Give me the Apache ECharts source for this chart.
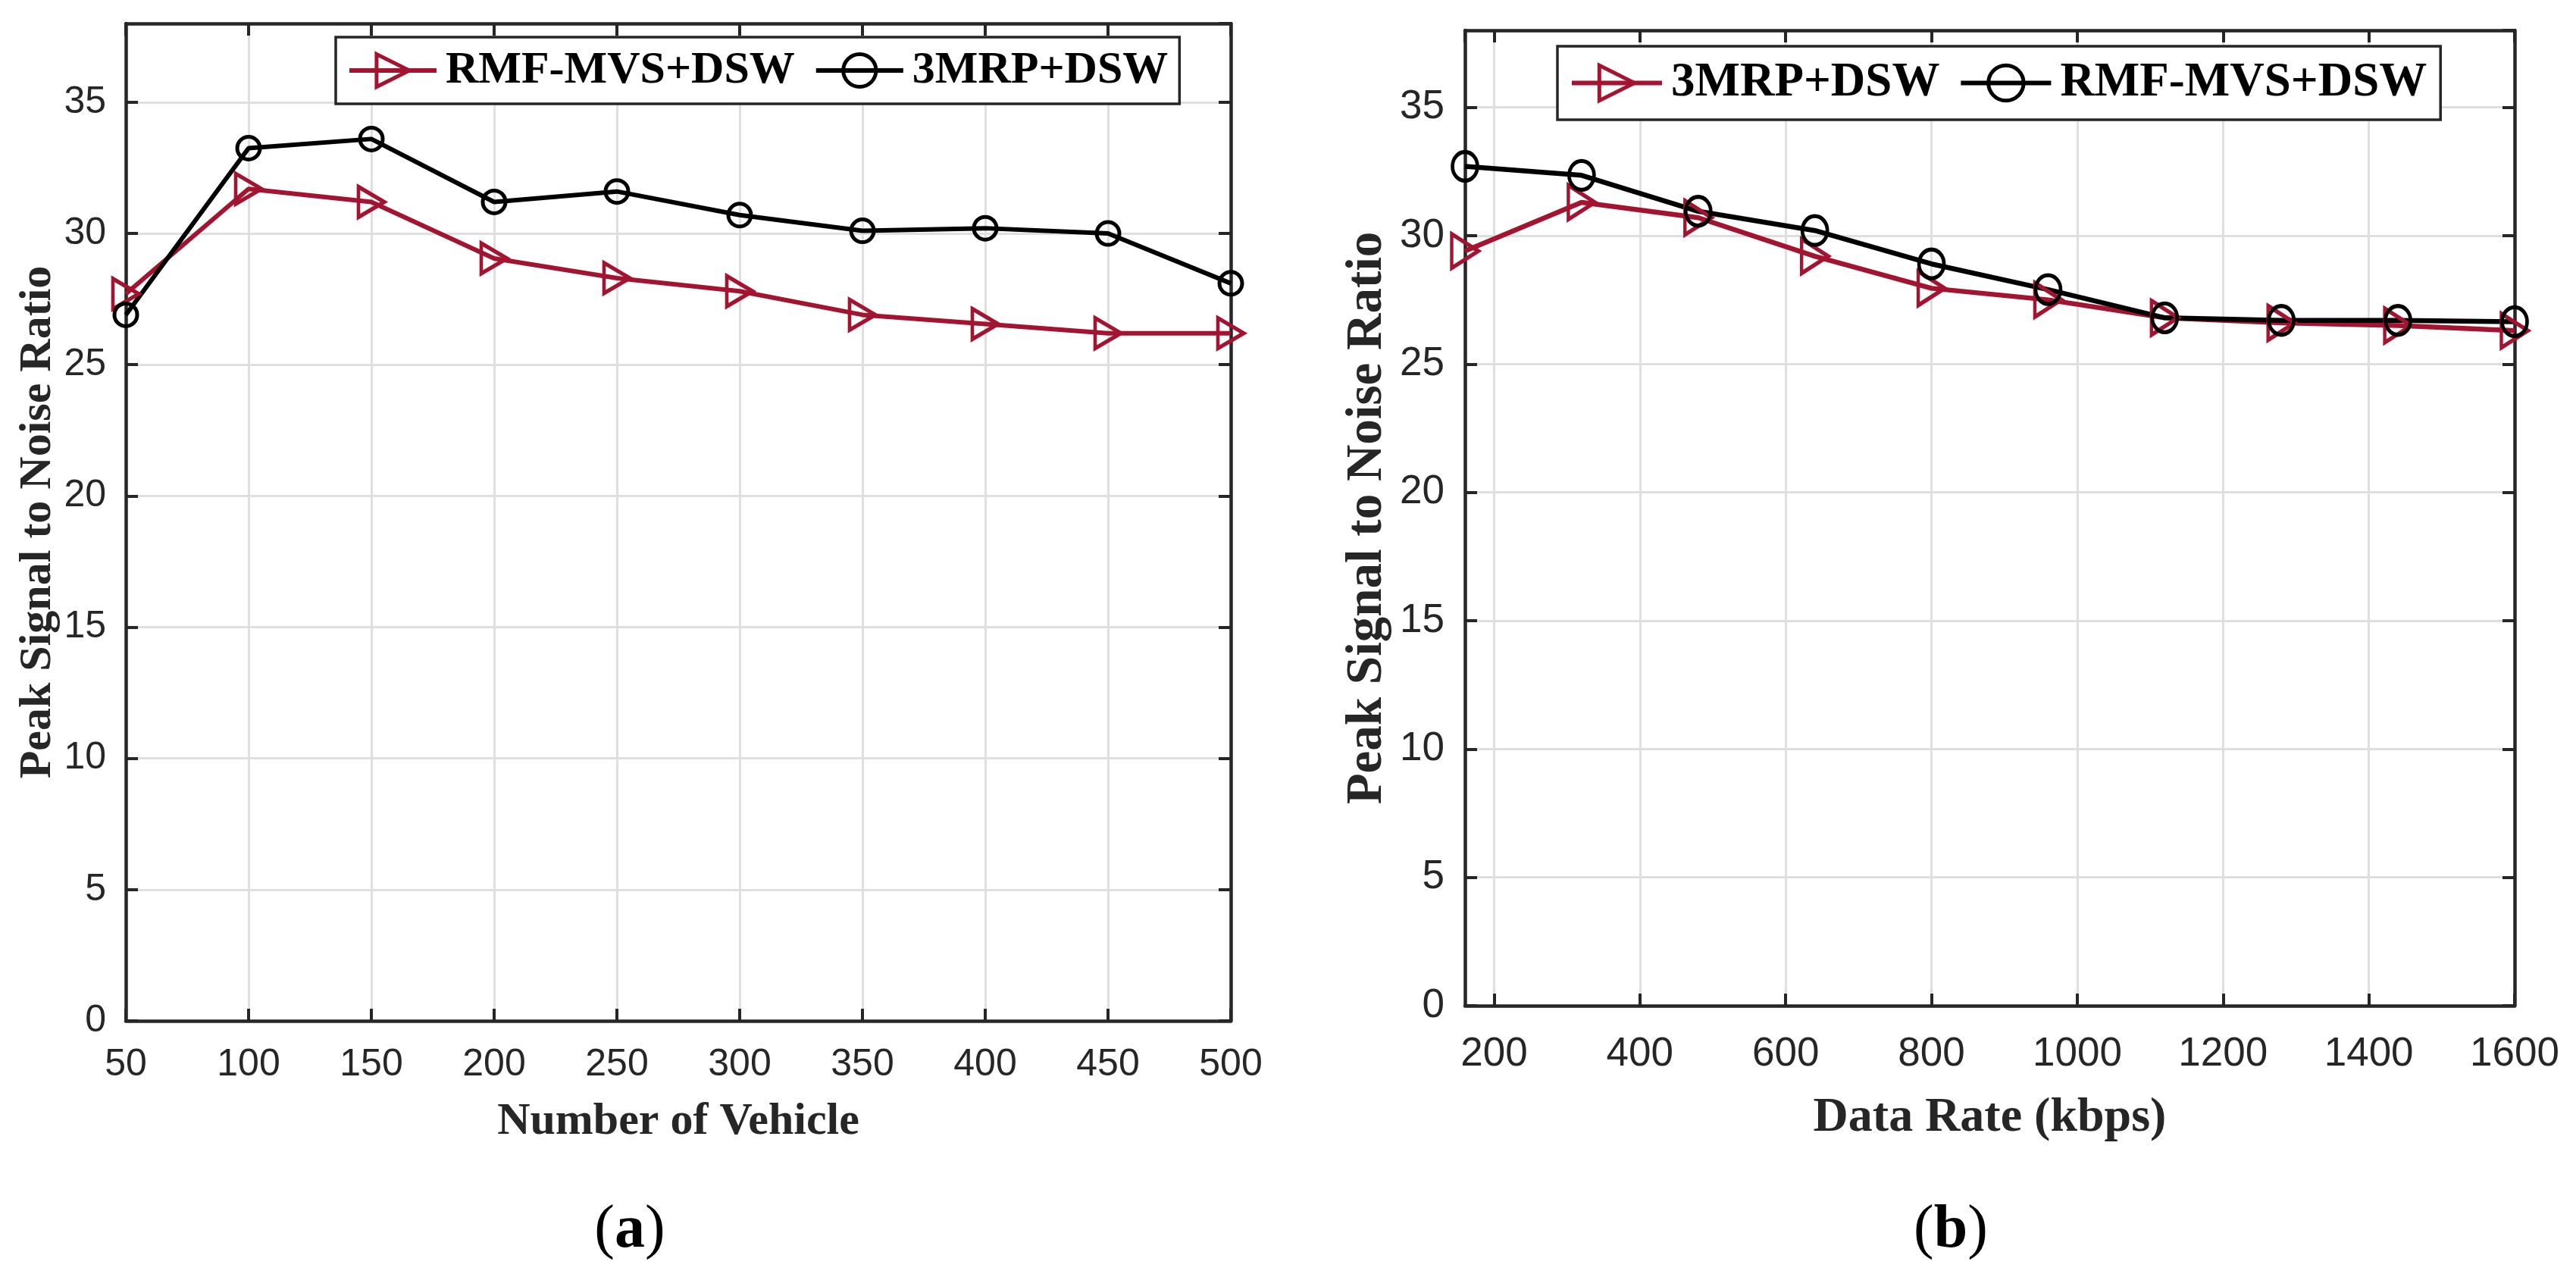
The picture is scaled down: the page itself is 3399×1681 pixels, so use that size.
<!DOCTYPE html>
<html>
<head>
<meta charset="utf-8">
<script src="https://cdn.jsdelivr.net/npm/echarts@6/dist/echarts.min.js"></script>
<style>
html,body{margin:0;padding:0;background:#ffffff;}
#c{width:3399px;height:1681px;}
</style>
</head>
<body>
<div id="c"></div>
<script>
// ---------- data ----------
const vehicles = [50, 100, 150, 200, 250, 300, 350, 400, 450, 500];
const psnrA_RMF = [27.7, 31.7, 31.2, 29.05, 28.3, 27.8, 26.9, 26.55, 26.2, 26.2];
const psnrA_3MRP = [26.9, 33.25, 33.6, 31.2, 31.6, 30.7, 30.1, 30.2, 30.0, 28.1];

const dataRates = [160, 320, 480, 640, 800, 960, 1120, 1280, 1440, 1600];
const psnrB_3MRP = [29.4, 31.3, 30.7, 29.2, 27.95, 27.5, 26.8, 26.6, 26.5, 26.3];
const psnrB_RMF = [32.7, 32.35, 30.95, 30.2, 28.9, 27.9, 26.8, 26.7, 26.7, 26.65];

const xTicksB = [200, 400, 600, 800, 1000, 1200, 1400, 1600];
const legendA = ['RMF-MVS+DSW', '3MRP+DSW'];
const legendB = ['3MRP+DSW', 'RMF-MVS+DSW'];
const panelTitles = ['a', 'b'];
const xNames = ['Number of Vehicle', 'Data Rate (kbps)'];
const yName = 'Peak Signal to Noise Ratio';

// ---------- styling ----------
const RED = '#A2142F';
const BLACK = '#000000';
const AX = '#262626';
const GRIDC = '#dfdfdf';
const ZW = '\u200B'; // keeps the panel-b legend names distinct from panel a
const TRI = 'path://M0,0L10,5L0,10Z';

function pairs(xs, ys) { return xs.map((x, i) => [x, ys[i]]); }

function xAxisPair(grid, min, max, extra, labelFont, margin, name, nameFont, nameGap) {
  const base = {
    gridIndex: grid, type: 'value', min: min, max: max,
    axisLine: { show: true, onZero: false, lineStyle: { color: AX, width: 4.5 } },
    axisTick: { show: true, inside: true, length: 16, lineStyle: { color: AX, width: 4 } }
  };
  return [
    Object.assign({}, base, extra, {
      position: 'bottom',
      axisLabel: Object.assign({ show: true, fontFamily: 'Liberation Sans', fontSize: labelFont, color: AX, margin: margin },
        extra.axisLabel || {}),
      splitLine: { show: true, lineStyle: { color: GRIDC, width: 3 } },
      name: name, nameLocation: 'middle', nameGap: nameGap,
      nameTextStyle: { fontFamily: 'Liberation Serif', fontWeight: 'bold', fontSize: nameFont, color: AX }
    }),
    Object.assign({}, base, extra, {
      position: 'top',
      axisLabel: { show: false },
      splitLine: { show: false }
    })
  ];
}

function yAxisPair(grid, labelFont, margin, nameFont, nameGap) {
  const base = {
    gridIndex: grid, type: 'value', min: 0, max: 38, interval: 5,
    axisLine: { show: true, onZero: false, lineStyle: { color: AX, width: 4.5 } },
    axisTick: { show: true, inside: true, length: 16, lineStyle: { color: AX, width: 4 } }
  };
  return [
    Object.assign({}, base, {
      position: 'left',
      axisLabel: { show: true, fontFamily: 'Liberation Sans', fontSize: labelFont, color: AX, margin: margin, showMaxLabel: false },
      splitLine: { show: true, lineStyle: { color: GRIDC, width: 3 } },
      name: yName, nameLocation: 'middle', nameGap: nameGap, nameRotate: 90,
      nameTextStyle: { fontFamily: 'Liberation Serif', fontWeight: 'bold', fontSize: nameFont, color: AX }
    }),
    Object.assign({}, base, {
      position: 'right',
      axisLabel: { show: false },
      splitLine: { show: false }
    })
  ];
}

const xAxes = []
  .concat(xAxisPair(0, 50, 500, { interval: 50 }, 50, 33, xNames[0], 60, 103))
  .concat(xAxisPair(1, 160, 1600, {
    splitNumber: 7,
    axisLabel: {
      showMinLabel: false,
      formatter: function (v) { return xTicksB.indexOf(v) >= 0 ? String(v) : ''; }
    }
  }, 53, 38, xNames[1], 64, 116));

const yAxes = []
  .concat(yAxisPair(0, 50, 26, 60, 72))
  .concat(yAxisPair(1, 53, 27, 67, 95));

function lineSeries(name, xIdx, yIdx, data, color, symbol, size, lw) {
  return {
    name: name, type: 'line', xAxisIndex: xIdx, yAxisIndex: yIdx,
    data: data, clip: false,
    symbol: symbol, symbolSize: size, showAllSymbol: true,
    lineStyle: { color: color, width: lw },
    itemStyle: { color: 'rgba(255,255,255,0)', borderColor: color, borderWidth: 5 },
    emphasis: { disabled: true },
    animation: false
  };
}

const series = [
  lineSeries(legendA[0], 0, 0, pairs(vehicles, psnrA_RMF), RED, TRI, [34, 40], 6),
  lineSeries(legendA[1], 0, 0, pairs(vehicles, psnrA_3MRP), BLACK, 'circle', 30, 6),
  lineSeries(legendB[0] + ZW, 2, 2, pairs(dataRates, psnrB_3MRP), RED, TRI, [35, 45], 6.5),
  lineSeries(legendB[1] + ZW, 2, 2, pairs(dataRates, psnrB_RMF), BLACK, 'circle', [33, 38], 6.5)
];

function legendBox(names, left, top, font, itemW, itemH, pad) {
  return {
    data: names, left: left, top: top, orient: 'horizontal',
    itemWidth: itemW, itemHeight: itemH, itemGap: 25,
    padding: pad, borderColor: AX, borderWidth: 3.5, backgroundColor: '#ffffff',
    selectedMode: false,
    lineStyle: { width: 6 },
    itemStyle: { borderWidth: 5 },
    textStyle: { fontFamily: 'Liberation Serif', fontWeight: 'bold', fontSize: font, color: '#000', padding: [0, 0, 0, 7] }
  };
}

const option = {
  backgroundColor: '#ffffff',
  animation: false,
  grid: [
    { left: 166, top: 31, width: 1458, height: 1316, containLabel: false },
    { left: 1933, top: 40, width: 1385, height: 1287, containLabel: false }
  ],
  xAxis: xAxes,
  yAxis: yAxes,
  legend: [
    legendBox(legendA, 443, 49, 60, 115, 54, [14, 15, 14, 15]),
    legendBox(legendB.map(n => n + ZW), 2055, 61, 63, 119, 58, [17, 18, 17, 16])
  ],
  graphic: panelTitles.map((t, i) => ({
    type: 'text',
    x: i === 0 ? 831 : 2574,
    y: 1624,
    style: {
      text: '{p|(}{b|' + t + '}{p|)}',
      align: 'center', verticalAlign: 'middle',
      rich: {
        p: { fontFamily: 'Liberation Serif', fontSize: 80, fill: '#000', color: '#000' },
        b: { fontFamily: 'Liberation Serif', fontSize: 80, fontWeight: 'bold', fill: '#000', color: '#000' }
      }
    }
  })),
  series: series
};

const chart = echarts.init(document.getElementById('c'), null, { renderer: 'canvas' });
chart.setOption(option);
</script>
</body>
</html>
